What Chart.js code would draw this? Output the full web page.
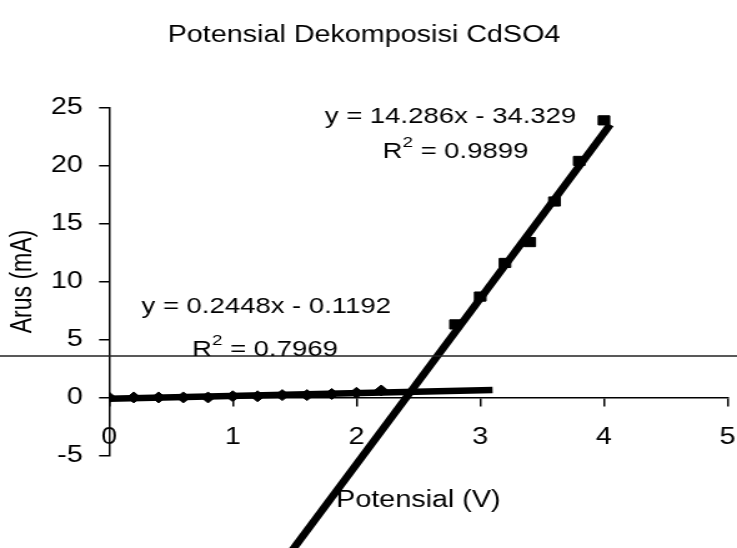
<!DOCTYPE html>
<html>
<head>
<meta charset="utf-8">
<script src="https://cdn.jsdelivr.net/npm/chart.js@4.4.1/dist/chart.umd.min.js"></script>
<style>
  html, body { margin: 0; padding: 0; background: #fff; overflow: hidden; }
  /* the scanned original is stretched sideways: draw narrow, then widen */
  #wrap { width: 590px; height: 548px; transform: scaleX(1.2492); transform-origin: 0 0; }
</style>
</head>
<body>
<div id="wrap"><canvas id="chart"></canvas></div>
<script>
// ── data ───────────────────────────────────────────────────────────────
const lowV  = [0, 0.2, 0.4, 0.6, 0.8, 1.0, 1.2, 1.4, 1.6, 1.8, 2.0, 2.2];
const lowI  = [0, 0, 0, 0, 0, 0.1, 0.1, 0.2, 0.2, 0.3, 0.4, 0.6];
const highV = [2.8, 3.0, 3.2, 3.4, 3.6, 3.8, 4.0];
const highI = [6.3, 8.7, 11.6, 13.4, 16.9, 20.4, 23.9];

// trendline ends (from the printed equations)
const trendLowV  = [0, 3.1];
const trendLowI  = [-0.12, 0.64];
const trendHighV = [1.4, 4.05];
const trendHighI = [-14.33, 23.53];

const xTicks = [0, 1, 2, 3, 4, 5];
const yTicks = [-5, 0, 5, 10, 15, 20, 25];

// equation labels: [before superscript, superscript, after]
const eqLabels = [
  { parts: ['y = 0.2448x - 0.1192', '', ''], v: 1.27, i: 7.8 },
  { parts: ['R', '2', ' = 0.7969'],          v: 1.26, i: 4.1 },
  { parts: ['y = 14.286x - 34.329', '', ''], v: 2.76, i: 24.2 },
  { parts: ['R', '2', ' = 0.9899'],          v: 2.80, i: 21.2 },
];

const INK = '#000';
const FONT = '"Liberation Sans", Arial, sans-serif';
Chart.defaults.font.family = FONT;
Chart.defaults.color = INK;

const pts = (xs, ys) => xs.map((x, k) => ({ x, y: ys[k] }));

// equation texts + the scanner streak across the page
const overlay = {
  id: 'overlay',
  afterDraw(chart) {
    const { ctx, scales: { x, y } } = chart;
    ctx.save();
    ctx.strokeStyle = '#222';
    ctx.lineWidth = 1.6;
    ctx.beginPath();
    ctx.moveTo(0, 356);
    ctx.lineTo(chart.width, 356);
    ctx.stroke();

    const big = '22px ' + FONT, small = '15px ' + FONT;
    ctx.fillStyle = INK;
    ctx.textAlign = 'left';
    ctx.textBaseline = 'middle';
    eqLabels.forEach(l => {
      const [a, sup, b] = l.parts;
      ctx.font = big;
      const wa = ctx.measureText(a).width, wb = ctx.measureText(b).width;
      ctx.font = small;
      const ws = ctx.measureText(sup).width;
      let px = x.getPixelForValue(l.v) - (wa + ws + wb) / 2;
      const py = y.getPixelForValue(l.i);
      ctx.font = big;
      ctx.fillText(a, px, py);
      px += wa;
      if (sup) {
        ctx.font = small;
        ctx.fillText(sup, px, py - 9);
        px += ws;
        ctx.font = big;
        ctx.fillText(b, px, py);
      }
    });
    ctx.restore();
  }
};

const axisGrid = { drawOnChartArea: false, color: INK, lineWidth: 1.5, tickLength: 8 };

new Chart(document.getElementById('chart'), {
  type: 'scatter',
  data: {
    datasets: [
      {
        data: pts(trendLowV, trendLowI),
        showLine: true, borderColor: INK, borderWidth: 6.5, pointRadius: 0,
      },
      {
        data: pts(trendHighV, trendHighI),
        showLine: true, borderColor: INK, borderWidth: 6.5, pointRadius: 0, clip: false,
      },
      {
        data: pts(lowV, lowI),
        pointStyle: 'rectRot', pointRadius: 5.5, backgroundColor: INK, borderColor: INK,
      },
      {
        data: pts(highV, highI),
        pointStyle: 'rect', pointRadius: 6.5, backgroundColor: INK, borderColor: INK,
      },
    ]
  },
  options: {
    animation: false,
    responsive: true,
    maintainAspectRatio: false,
    layout: { padding: { left: 0, right: 7.2, top: 0, bottom: 0 } },
    plugins: {
      legend: { display: false },
      tooltip: { enabled: false },
      title: {
        display: true, text: 'Potensial Dekomposisi CdSO4', color: INK,
        font: { size: 23, weight: 'normal' }, padding: { top: 22, bottom: 58 }
      },
      subtitle: {
        display: true, position: 'bottom', fullSize: false, text: 'Potensial (V)', color: INK,
        font: { size: 23, weight: 'normal' }, padding: { top: 31, bottom: 34 }
      }
    },
    scales: {
      x: {
        type: 'linear', position: { y: 0 }, min: 0, max: 5,
        afterBuildTicks: s => { s.ticks = xTicks.map(value => ({ value })); },
        afterFit: s => { s.paddingLeft = 0; s.paddingRight = 0; },
        grid: axisGrid,
        border: { color: INK, width: 1.5 },
        ticks: { color: INK, font: { size: 23 }, padding: 18, maxRotation: 0 }
      },
      y: {
        position: 'left', min: -5, max: 25,
        afterBuildTicks: s => { s.ticks = yTicks.map(value => ({ value })); },
        afterFit: s => { s.width = 87.3; },
        grid: axisGrid,
        border: { color: INK, width: 1.5 },
        ticks: { color: INK, font: { size: 23 }, padding: 13 },
        title: { display: true, text: 'Arus (mA)', color: INK, font: { size: 23 }, padding: { top: 5 } }
      }
    }
  },
  plugins: [overlay]
});
</script>
</body>
</html>
